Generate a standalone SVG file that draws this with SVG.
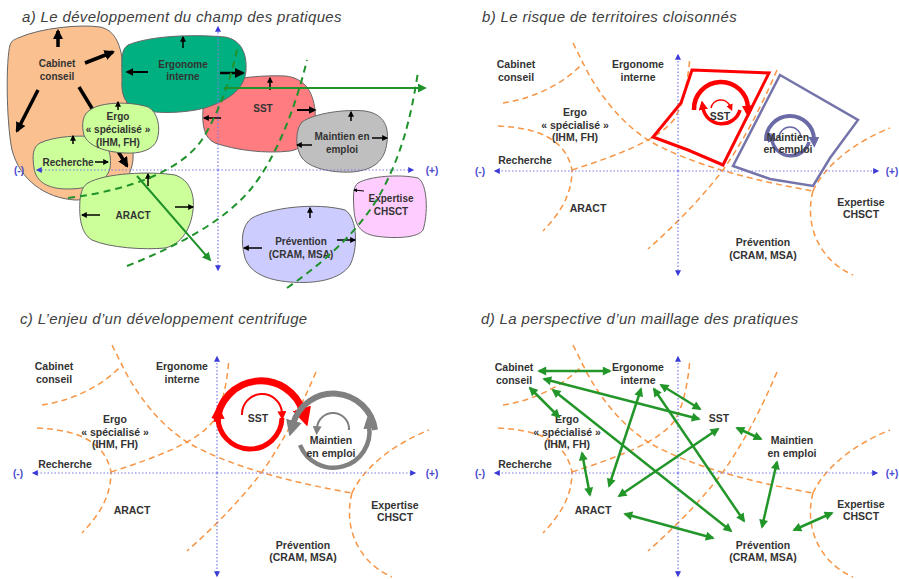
<svg xmlns="http://www.w3.org/2000/svg" xmlns:xlink="http://www.w3.org/1999/xlink" width="899" height="579" viewBox="0 0 899 579">
<style>
.ttl{font:italic 15px "Liberation Sans",Arial,sans-serif;fill:#404040;letter-spacing:0.35px}
.la{font:bold 10px "Liberation Sans",Arial,sans-serif;fill:#333;text-anchor:middle}
.lb{font:bold 10.5px "Liberation Sans",Arial,sans-serif;fill:#333;text-anchor:middle}
.axl{font:bold 10px "Liberation Sans",Arial,sans-serif;fill:#4a4ad0;text-anchor:middle}
.ax{stroke:#7a7ae8;stroke-width:1.2;stroke-dasharray:1.5 2;fill:none;marker-end:url(#mb)}
.blob{stroke:#666;stroke-width:1}
.ka{stroke:#000;stroke-width:1.5;fill:none;marker-end:url(#mk)}
.kt{stroke:#000;stroke-width:3.5;fill:none;marker-end:url(#mkt)}
.gd{stroke:#1f922a;stroke-width:2;stroke-dasharray:7 5;fill:none}
.ga{stroke:#1f922a;stroke-width:2;fill:none;marker-end:url(#mg)}
.dm{stroke:#23962a;stroke-width:2.5;fill:none;marker-start:url(#mg2);marker-end:url(#mg2)}
.or{stroke:#f79646;stroke-width:1.5;stroke-dasharray:6 4;fill:none}
.rc{fill:none;stroke:#ff0000}
.gc{fill:none;stroke:#808080}
.sc{fill:none;stroke:#6a6aa6}
</style>
<defs>
<marker id="mk" viewBox="0 0 10 10" refX="8" refY="5" markerWidth="4" markerHeight="4" orient="auto" markerUnits="strokeWidth"><path d="M0,0L10,5L0,10z" fill="#000"/></marker>
<marker id="mkt" viewBox="0 0 10 10" refX="8" refY="5" markerWidth="3" markerHeight="3" orient="auto" markerUnits="strokeWidth"><path d="M0,0L10,5L0,10z" fill="#000"/></marker>
<marker id="mg" viewBox="0 0 10 10" refX="8" refY="5" markerWidth="4.5" markerHeight="4.5" orient="auto" markerUnits="strokeWidth"><path d="M0,0L10,5L0,10z" fill="#1f922a"/></marker>
<marker id="mg2" viewBox="0 0 10 10" refX="8" refY="5" markerWidth="4" markerHeight="3.6" orient="auto-start-reverse" markerUnits="strokeWidth"><path d="M0,0L10,5L0,10z" fill="#23962a"/></marker>
<marker id="mb" viewBox="0 0 10 10" refX="8" refY="5" markerWidth="7" markerHeight="6" orient="auto" markerUnits="userSpaceOnUse"><path d="M0,0L10,5L0,10z" fill="#3a3ad8"/></marker>
<marker id="mr" viewBox="0 0 10 10" refX="2" refY="5" markerWidth="2.7" markerHeight="2.7" orient="auto" markerUnits="strokeWidth"><path d="M0,0L10,5L0,10z" fill="#ff0000"/></marker>
<marker id="mrs" viewBox="0 0 10 10" refX="2" refY="5" markerWidth="4.5" markerHeight="4.5" orient="auto" markerUnits="strokeWidth"><path d="M0,0L10,5L0,10z" fill="#ff0000"/></marker>
<marker id="mgr" viewBox="0 0 10 10" refX="2" refY="5" markerWidth="2.7" markerHeight="2.7" orient="auto" markerUnits="strokeWidth"><path d="M0,0L10,5L0,10z" fill="#808080"/></marker>
<marker id="mgrs" viewBox="0 0 10 10" refX="2" refY="5" markerWidth="4.5" markerHeight="4.5" orient="auto" markerUnits="strokeWidth"><path d="M0,0L10,5L0,10z" fill="#808080"/></marker>
<marker id="ms" viewBox="0 0 10 10" refX="2" refY="5" markerWidth="2.7" markerHeight="2.7" orient="auto" markerUnits="strokeWidth"><path d="M0,0L10,5L0,10z" fill="#6a6aa6"/></marker>
<g id="borders">
<path class="or" d="M503,103 C525,100 560,88 583,63"/>
<path class="or" d="M573,43 L583,63 C597,92 620,122 648,140 C690,165 760,182 813,191"/>
<path class="or" d="M813,191 C825,165 855,142 890,128"/>
<path class="or" d="M813,191 C805,220 815,258 853,275"/>
<path class="or" d="M498,126 C540,128 566,140 572,170 C572,195 560,213 543,231"/>
<path class="or" d="M572,170 C615,156 660,140 675,118 C685,100 688,78 690,57"/>
<path class="or" d="M777,70 C760,110 742,143 723,170 C700,200 675,225 648,249"/>
</g>
</defs>
<rect width="899" height="579" fill="#fff"/>

<!-- Titles -->
<text class="ttl" x="22" y="22">a) Le développement du champ des pratiques</text>
<text class="ttl" x="482" y="22">b) Le risque de territoires cloisonnés</text>
<text class="ttl" x="20" y="324">c) L’enjeu d’un développement centrifuge</text>
<text class="ttl" x="481" y="324">d) La perspective d’un maillage des pratiques</text>

<!-- ===== Panel a ===== -->
<g id="a-cabinet">
<path class="blob" fill="#fac090" d="M18,38 C40,28 80,24 100,27 C115,30 122,45 123,70 C124,100 135,130 133,160 C130,185 110,200 75,200 C45,198 20,180 12,150 C6,120 6,60 10,45 C12,40 14,40 18,38 Z"/>
<text class="la" x="57" y="67">Cabinet</text>
<text class="la" x="57" y="80">conseil</text>
<line class="kt" x1="58" y1="47" x2="58" y2="31"/>
<line class="kt" x1="85" y1="63" x2="113" y2="52"/>
<line class="kt" x1="38" y1="90" x2="17" y2="131"/>
<line class="kt" x1="79" y1="87" x2="127" y2="166"/>
</g>
<g id="a-sst">
<path class="blob" fill="#ff7c80" d="M212,88 C225,78 260,75 285,76 C305,78 313,92 315,110 C317,130 308,148 290,151 C265,154 235,150 215,143 C204,138 202,125 203,110 C203,98 206,92 212,88 Z"/>
<text class="la" x="263" y="112">SST</text>
<line class="ka" x1="270" y1="90" x2="270" y2="78"/>
<line class="ka" x1="221" y1="118" x2="204" y2="118"/>
<line class="ka" x1="297" y1="110" x2="315" y2="110" style="stroke-width:2"/>
</g>
<g id="a-ergonome">
<path class="blob" fill="#00b080" d="M128,45 C150,36 190,34 225,37 C242,40 247,55 246,70 C245,88 230,100 205,108 C185,113 160,114 140,110 C125,106 121,95 122,80 C122,62 120,50 128,45 Z"/>
<text class="la" x="183" y="67.5">Ergonome</text>
<text class="la" x="183" y="80">interne</text>
<line class="ka" x1="183" y1="48" x2="183" y2="37"/>
<line class="ka" x1="148" y1="72" x2="127" y2="72" style="stroke-width:2"/>
<line class="ka" x1="220" y1="73" x2="243" y2="73" style="stroke-width:2.5"/>
</g>
<g id="a-maintien">
<path class="blob" fill="#bfbfbf" d="M302,122 C315,113 345,109 365,111 C385,114 389,128 387,142 C385,160 375,170 352,172 C330,173 310,168 302,158 C295,148 295,130 302,122 Z"/>
<text class="la" x="342" y="140">Maintien en</text>
<text class="la" x="342" y="153">emploi</text>
<line class="ka" x1="351" y1="121" x2="351" y2="112"/>
<line class="ka" x1="372" y1="138" x2="387" y2="138"/>
<line class="ka" x1="312" y1="145" x2="297" y2="145"/>
</g>
<g id="a-recherche">
<path class="blob" fill="#ccff99" d="M40,143 C55,136 80,135 95,137 C108,140 112,155 110,168 C107,182 90,189 68,189 C48,189 36,182 34,168 C32,155 33,147 40,143 Z"/>
<text class="la" x="68" y="165.5">Recherche</text>
<line class="ka" x1="73" y1="144" x2="73" y2="136"/>
<line class="ka" x1="95" y1="162" x2="108" y2="162"/>
</g>
<g id="a-ergo">
<path class="blob" fill="#ccff99" d="M90,110 C100,102 130,101 148,107 C158,112 161,128 157,140 C153,150 140,154 125,153 C105,152 88,146 84,135 C81,124 83,114 90,110 Z"/>
<text class="la" x="118" y="120">Ergo</text>
<text class="la" x="118" y="133">« spécialisé »</text>
<text class="la" x="118" y="145.5">(IHM, FH)</text>
<line class="ka" x1="118" y1="110" x2="118" y2="102"/>
</g>
<g id="a-aract">
<path class="blob" fill="#ccff99" d="M88,183 C105,173 150,171 175,175 C190,180 195,195 193,210 C191,228 182,244 165,248 C145,250 110,248 92,240 C80,233 79,215 80,200 C81,191 83,186 88,183 Z"/>
<text class="la" x="133" y="219">ARACT</text>
<line class="ka" x1="148" y1="186" x2="148" y2="174"/>
<line class="ka" x1="100" y1="215" x2="82" y2="215"/>
<line class="ka" x1="175" y1="207" x2="193" y2="207"/>
</g>
<g id="a-expertise">
<path class="blob" fill="#ffccff" d="M358,183 C370,176 400,174 418,178 C428,184 428,215 423,230 C418,238 395,239 375,236 C360,233 355,225 354,210 C353,195 353,187 358,183 Z"/>
<text class="la" x="391" y="202">Expertise</text>
<text class="la" x="391" y="215">CHSCT</text>
<line class="ka" x1="364" y1="191" x2="354" y2="190" style="stroke-width:1"/>
</g>
<g id="a-prevention">
<path class="blob" fill="#ccccff" d="M252,218 C270,208 315,202 345,210 C358,218 358,250 350,265 C340,280 315,284 290,282 C265,280 250,272 245,258 C240,240 242,225 252,218 Z"/>
<text class="la" x="301" y="245">Prévention</text>
<text class="la" x="301" y="258">(CRAM, MSA)</text>
<line class="ka" x1="310" y1="218" x2="310" y2="208"/>
<line class="ka" x1="262" y1="248" x2="244" y2="248"/>
<line class="ka" x1="337" y1="240" x2="355" y2="240"/>
</g>
<g id="a-axes">
<line class="ax" x1="218" y1="170" x2="218" y2="27"/>
<line class="ax" x1="218" y1="170" x2="218" y2="270"/>
<line class="ax" x1="218" y1="170" x2="413" y2="170"/>
<line class="ax" x1="218" y1="170" x2="37" y2="170"/>
<text class="axl" x="19" y="173.5">(-)</text>
<text class="axl" x="432" y="173.5">(+)</text>
</g>
<g id="a-connectors">
<path class="gd" d="M68,198 C130,190 185,170 205,135 C222,105 232,75 238,45"/>
<path class="gd" d="M127,266 C180,245 225,220 250,190 C275,160 295,110 307,60"/>
<path class="gd" d="M287,288 C330,258 365,225 385,185 C405,145 412,110 418,72"/>
<line class="ga" x1="224" y1="88" x2="425" y2="88"/>
<line class="ga" x1="137" y1="176" x2="210" y2="260"/>
</g>

<!-- ===== Panel b ===== -->
<use href="#borders" xlink:href="#borders"/>
<g id="b-axes">
<line class="ax" x1="678" y1="171" x2="678" y2="55"/>
<line class="ax" x1="678" y1="171" x2="678" y2="275"/>
<line class="ax" x1="678" y1="171" x2="878" y2="171"/>
<line class="ax" x1="678" y1="171" x2="495" y2="171"/>
<text class="axl" x="480" y="174.5">(-)</text>
<text class="axl" x="892" y="174.5">(+)</text>
</g>
<g id="b-territories">
<polygon points="692,70 769,73 723,165 688,150 653,137 681,103" fill="none" stroke="#ff0000" stroke-width="3" stroke-linejoin="miter"/>
<polygon points="780,75 858,120 830,158 813,186 770,179 733,166" fill="none" stroke="#7474aa" stroke-width="2.5"/>
<path class="rc" stroke-width="4.5" marker-end="url(#mr)" d="M694,110 A27,27 0 0 1 748,108"/>
<path class="rc" stroke-width="3.5" marker-end="url(#mr)" d="M740,110 A19,19 0 0 1 703,108"/>
<path class="rc" stroke-width="1.5" marker-end="url(#mrs)" d="M711,108 A10,10 0 0 1 730,106"/>
<path class="sc" stroke-width="4" marker-end="url(#ms)" d="M766,141 A24,24 0 0 1 814,139"/>
<path class="sc" stroke-width="3.5" marker-end="url(#ms)" d="M809,142 A19,19 0 0 1 772,140"/>
<path class="sc" stroke-width="1.5" d="M779,138 A11,11 0 0 1 801,138"/>
</g>
<g id="b-cabinet"><text class="lb" x="516" y="68">Cabinet</text><text class="lb" x="516" y="81">conseil</text></g>
<g id="b-ergonome"><text class="lb" x="638" y="68">Ergonome</text><text class="lb" x="638" y="81">interne</text></g>
<g id="b-ergo"><text class="lb" x="575" y="116">Ergo</text><text class="lb" x="575" y="129">« spécialisé »</text><text class="lb" x="575" y="141">(IHM, FH)</text></g>
<g id="b-recherche"><text class="lb" x="525" y="164">Recherche</text></g>
<g id="b-aract"><text class="lb" x="588" y="212">ARACT</text></g>
<g id="b-prevention"><text class="lb" x="763" y="246">Prévention</text><text class="lb" x="763" y="259">(CRAM, MSA)</text></g>
<g id="b-expertise"><text class="lb" x="861" y="206">Expertise</text><text class="lb" x="861" y="218">CHSCT</text></g>
<g id="b-sst"><text class="lb" x="720" y="120">SST</text></g>
<g id="b-maintien"><text class="lb" x="788" y="141">Maintien</text><text class="lb" x="788" y="153">en emploi</text></g>

<!-- ===== Panel c ===== -->
<use href="#borders" xlink:href="#borders" transform="translate(-461,302)"/>
<g id="c-axes">
<line class="ax" x1="217" y1="473" x2="217" y2="357"/>
<line class="ax" x1="217" y1="473" x2="217" y2="576"/>
<line class="ax" x1="217" y1="473" x2="415" y2="473"/>
<line class="ax" x1="217" y1="473" x2="33" y2="473"/>
<text class="axl" x="18" y="476.5">(-)</text>
<text class="axl" x="432" y="476.5">(+)</text>
</g>
<g id="c-cycles">
<path class="rc" stroke-width="7" marker-end="url(#mr)" d="M217,422 A44,44 0 0 1 303,412"/>
<path class="rc" stroke-width="5" marker-end="url(#mr)" d="M282,418 A32,32 0 0 1 218,416"/>
<path class="rc" stroke-width="2" marker-end="url(#mrs)" d="M242,415 A20,20 0 0 1 282,413"/>
<path class="gc" stroke-width="6" marker-end="url(#mgr)" d="M375,430 A42,42 0 0 0 293,424"/>
<path class="gc" stroke-width="4.5" marker-end="url(#mgr)" d="M300,445 A36,36 0 0 0 369,426"/>
<path class="gc" stroke-width="2" marker-end="url(#mgrs)" d="M349,430 A16,16 0 0 0 317,428"/>
</g>
<g id="c-cabinet"><text class="lb" x="54" y="370">Cabinet</text><text class="lb" x="54" y="383">conseil</text></g>
<g id="c-ergonome"><text class="lb" x="182" y="370">Ergonome</text><text class="lb" x="182" y="383">interne</text></g>
<g id="c-ergo"><text class="lb" x="115" y="423">Ergo</text><text class="lb" x="115" y="436">« spécialisé »</text><text class="lb" x="115" y="448">(IHM, FH)</text></g>
<g id="c-recherche"><text class="lb" x="65" y="468">Recherche</text></g>
<g id="c-aract"><text class="lb" x="132" y="514">ARACT</text></g>
<g id="c-prevention"><text class="lb" x="303" y="549">Prévention</text><text class="lb" x="303" y="561">(CRAM, MSA)</text></g>
<g id="c-expertise"><text class="lb" x="395" y="509">Expertise</text><text class="lb" x="395" y="521">CHSCT</text></g>
<g id="c-sst"><text class="lb" x="258" y="422">SST</text></g>
<g id="c-maintien"><text class="lb" x="331" y="444">Maintien</text><text class="lb" x="331" y="457">en emploi</text></g>

<!-- ===== Panel d ===== -->
<use href="#borders" xlink:href="#borders" transform="translate(0,302)"/>
<g id="d-axes">
<line class="ax" x1="678" y1="473" x2="678" y2="357"/>
<line class="ax" x1="678" y1="473" x2="678" y2="576"/>
<line class="ax" x1="678" y1="473" x2="877" y2="473"/>
<line class="ax" x1="678" y1="473" x2="495" y2="473"/>
<text class="axl" x="480" y="476.5">(-)</text>
<text class="axl" x="892" y="476.5">(+)</text>
</g>
<g id="d-cabinet"><text class="lb" x="514" y="371">Cabinet</text><text class="lb" x="514" y="384">conseil</text></g>
<g id="d-ergonome"><text class="lb" x="638" y="371">Ergonome</text><text class="lb" x="638" y="384">interne</text></g>
<g id="d-sst"><text class="lb" x="719" y="422">SST</text></g>
<g id="d-maintien"><text class="lb" x="792" y="444">Maintien</text><text class="lb" x="792" y="457">en emploi</text></g>
<g id="d-ergo"><text class="lb" x="567" y="423">Ergo</text><text class="lb" x="567" y="436">« spécialisé »</text><text class="lb" x="567" y="448">(IHM, FH)</text></g>
<g id="d-recherche"><text class="lb" x="525" y="468">Recherche</text></g>
<g id="d-aract"><text class="lb" x="593" y="514">ARACT</text></g>
<g id="d-prevention"><text class="lb" x="763" y="549">Prévention</text><text class="lb" x="763" y="561">(CRAM, MSA)</text></g>
<g id="d-expertise"><text class="lb" x="861" y="508">Expertise</text><text class="lb" x="861" y="520">CHSCT</text></g>
<g id="d-connectors">
<line class="dm" x1="539" y1="371" x2="610" y2="371"/>
<line class="dm" x1="544" y1="379" x2="699" y2="419"/>
<line class="dm" x1="530" y1="388" x2="559" y2="417"/>
<line class="dm" x1="553" y1="390" x2="731" y2="531"/>
<line class="dm" x1="641" y1="389" x2="609" y2="486"/>
<line class="dm" x1="654" y1="389" x2="744" y2="521"/>
<line class="dm" x1="661" y1="385" x2="700" y2="409"/>
<line class="dm" x1="718" y1="429" x2="619" y2="496"/>
<line class="dm" x1="737" y1="428" x2="761" y2="439"/>
<line class="dm" x1="777" y1="462" x2="762" y2="527"/>
<line class="dm" x1="625" y1="514" x2="713" y2="538"/>
<line class="dm" x1="832" y1="513" x2="794" y2="530"/>
<line class="dm" x1="582" y1="453" x2="590" y2="495"/>
</g>
</svg>
